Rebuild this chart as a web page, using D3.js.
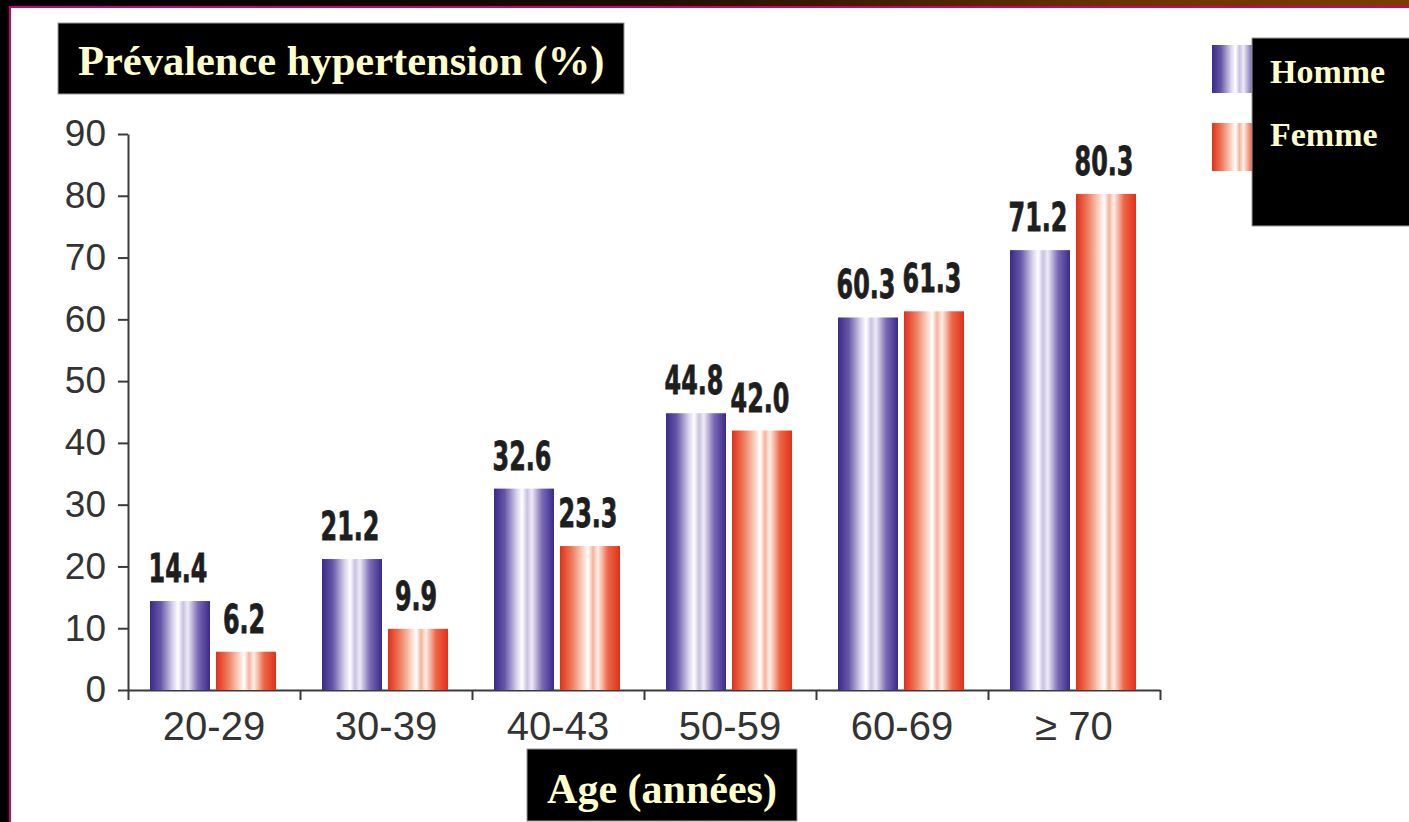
<!DOCTYPE html>
<html>
<head>
<meta charset="utf-8">
<script src="https://cdn.jsdelivr.net/npm/d3@7/dist/d3.min.js"></script>
<style>
  html, body { margin: 0; padding: 0; background: #000; }
  svg { display: block; }
</style>
</head>
<body>
<script>
// Hypertension prevalence by age group and sex
const ageGroups = ["20-29", "30-39", "40-43", "50-59", "60-69", "\u2265 70"];
const seriesNames = ["Homme", "Femme"];
const hommeValues = [14.4, 21.2, 32.6, 44.8, 60.3, 71.2];
const femmeValues = [6.2, 9.9, 23.3, 42.0, 61.3, 80.3];
const yTicks = [0, 10, 20, 30, 40, 50, 60, 70, 80, 90];

const W = 1409, H = 822;
const svg = d3.select("body").append("svg").attr("width", W).attr("height", H);

// ---- frame: dark top strip, black left strip, magenta rule ----
const defs = svg.append("defs");
const topGrad = defs.append("linearGradient").attr("id", "topStrip");
topGrad.append("stop").attr("offset", "0%").attr("stop-color", "#000");
topGrad.append("stop").attr("offset", "45%").attr("stop-color", "#1a0c00");
topGrad.append("stop").attr("offset", "80%").attr("stop-color", "#6a3500");
topGrad.append("stop").attr("offset", "100%").attr("stop-color", "#7a3e00");
svg.append("rect").attr("x", 0).attr("y", 0).attr("width", W).attr("height", H).attr("fill", "#fff");
svg.append("rect").attr("x", 0).attr("y", 0).attr("width", W).attr("height", 6).attr("fill", "url(#topStrip)");
svg.append("rect").attr("x", 0).attr("y", 0).attr("width", 9).attr("height", H).attr("fill", "#000");
svg.append("rect").attr("x", 9).attr("y", 6).attr("width", W - 9).attr("height", 2).attr("fill", "#d1006c");
svg.append("rect").attr("x", 9).attr("y", 6).attr("width", 2).attr("height", H - 6).attr("fill", "#d1006c");

// ---- bar gradients ----
function barGradient(id, stops) {
  const g = defs.append("linearGradient").attr("id", id)
    .attr("x1", "0%").attr("x2", "100%").attr("y1", "0%").attr("y2", "0%");
  stops.forEach(([o, c]) => g.append("stop").attr("offset", o).attr("stop-color", c));
}
barGradient("gradHomme", [
  ["0%", "#3a2989"], ["18%", "#6757a8"], ["38%", "#d9d4ec"], ["47%", "#ffffff"],
  ["55%", "#c9c1e1"], ["63%", "#eeebf7"], ["80%", "#7a6ab6"], ["100%", "#3a2989"]
]);
barGradient("gradFemme", [
  ["0%", "#e0301a"], ["18%", "#ec7455"], ["38%", "#fad2c2"], ["47%", "#ffffff"],
  ["55%", "#f5b49c"], ["63%", "#fff0e8"], ["80%", "#ec6646"], ["100%", "#e0301a"]
]);
const gradFor = { Homme: "url(#gradHomme)", Femme: "url(#gradFemme)" };

// ---- scales ----
const plotLeft = 128, plotRight = 1160, plotBottom = 690, plotTop = 134;
const x0 = d3.scaleBand().domain(ageGroups).range([plotLeft, plotRight]).padding(0);
const x1 = d3.scaleBand().domain(seriesNames).range([22, 148]).paddingInner(6 / 66);
const y = d3.scaleLinear().domain([0, 90]).range([plotBottom, plotTop]);

const rows = ageGroups.map((g, i) => ({
  group: g,
  values: [
    { key: "Homme", value: hommeValues[i] },
    { key: "Femme", value: femmeValues[i] }
  ]
}));

// ---- y axis ----
const yAxis = svg.append("g").attr("transform", `translate(${plotLeft},0)`)
  .call(d3.axisLeft(y).tickValues(yTicks).tickSize(10).tickSizeOuter(0).tickPadding(12));
yAxis.select(".domain").attr("stroke", "#3a3a3a").attr("stroke-width", 2);
yAxis.selectAll(".tick line").attr("stroke", "#3a3a3a").attr("stroke-width", 2);
yAxis.selectAll(".tick text")
  .attr("font-family", "'Liberation Sans', Arial, sans-serif")
  .attr("font-size", 37).attr("fill", "#333");

// ---- x axis: boundary ticks + centred labels ----
const boundaries = d3.range(ageGroups.length + 1);
const xb = d3.scaleLinear().domain([0, ageGroups.length]).range([plotLeft, plotRight]);
const xTickAxis = svg.append("g").attr("transform", `translate(0,${plotBottom})`)
  .call(d3.axisBottom(xb).tickValues(boundaries).tickSize(10).tickSizeOuter(0).tickFormat(""));
xTickAxis.select(".domain").attr("stroke", "#3a3a3a").attr("stroke-width", 2);
xTickAxis.selectAll(".tick line").attr("stroke", "#3a3a3a").attr("stroke-width", 2);

const xLabelAxis = svg.append("g").attr("transform", `translate(0,${plotBottom})`)
  .call(d3.axisBottom(x0).tickSize(0).tickPadding(22));
xLabelAxis.select(".domain").remove();
xLabelAxis.selectAll(".tick text")
  .attr("font-family", "'Liberation Sans', Arial, sans-serif")
  .attr("font-size", 40).attr("fill", "#333");

// ---- bars ----
const groups = svg.append("g").selectAll("g").data(rows).join("g")
  .attr("transform", d => `translate(${x0(d.group)},0)`);

groups.selectAll("rect").data(d => d.values).join("rect")
  .attr("x", d => x1(d.key))
  .attr("y", d => y(d.value))
  .attr("width", x1.bandwidth())
  .attr("height", d => y(0) - y(d.value))
  .attr("fill", d => gradFor[d.key]);

// value labels in a heavy, horizontally compressed face
groups.selectAll("text.val").data(d => d.values).join("text")
  .attr("class", "val")
  .attr("transform", d => `translate(${x1(d.key) + x1.bandwidth() / 2 - 2},${y(d.value) - 19}) scale(0.68,1)`)
  .attr("text-anchor", "middle")
  .attr("font-family", "'DejaVu Sans Condensed', 'DejaVu Sans', sans-serif")
  .attr("font-weight", "bold")
  .attr("font-size", 39)
  .attr("stroke", "#1e1e1e").attr("stroke-width", 0.8)
  .attr("fill", "#1e1e1e")
  .text(d => d.value.toFixed(1));

// ---- title boxes ----
function labelBox(x, yTop, w, h, text, tx, ty, size, anchor) {
  svg.append("rect").attr("x", x).attr("y", yTop).attr("width", w).attr("height", h)
    .attr("fill", "#000").attr("stroke", "#9a9a9a").attr("stroke-width", 1);
  svg.append("text").attr("x", tx).attr("y", ty)
    .attr("text-anchor", anchor || "start")
    .attr("font-family", "'Liberation Serif', 'Times New Roman', serif")
    .attr("font-weight", "bold").attr("font-size", size)
    .attr("fill", "#ffffcc").text(text);
}
labelBox(58, 23, 566, 71, "Pr\u00e9valence hypertension (%)", 78, 75, 42.5, "start");
labelBox(527, 749, 270, 72, "Age (ann\u00e9es)", 662, 803, 42, "middle");

// ---- legend ----
const legendSwatches = [
  { key: "Homme", y: 45 },
  { key: "Femme", y: 123 }
];
svg.append("g").selectAll("rect").data(legendSwatches).join("rect")
  .attr("x", 1212).attr("y", d => d.y).attr("width", 50).attr("height", 48)
  .attr("fill", d => gradFor[d.key]);
svg.append("rect").attr("x", 1252).attr("y", 38).attr("width", 170).attr("height", 188)
  .attr("fill", "#000").attr("stroke", "#9a9a9a").attr("stroke-width", 1);
svg.append("g").selectAll("text").data(seriesNames).join("text")
  .attr("x", 1270).attr("y", (d, i) => 83 + i * 63)
  .attr("font-family", "'Liberation Serif', 'Times New Roman', serif")
  .attr("font-weight", "bold").attr("font-size", 34)
  .attr("fill", "#ffffcc").text(d => d);
</script>
</body>
</html>
